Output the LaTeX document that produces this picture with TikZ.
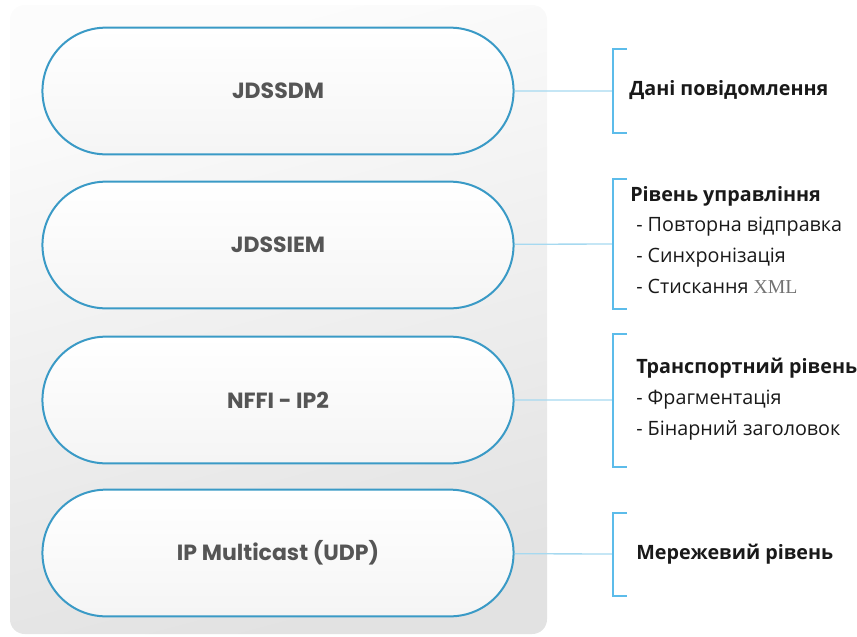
\documentclass[tikz,border=0pt]{standalone}
\usepackage{fontspec}
\setmainfont{Open Sans}
\newfontfamily\pillfont{Poppins}
\newfontfamily\xmlfont{Liberation Serif}
\usetikzlibrary{shapes.misc}

\definecolor{pillblue}{HTML}{3A9AC6}
\definecolor{linkblue}{HTML}{A6D9F0}
\definecolor{bracketblue}{HTML}{5CBCEA}
\definecolor{labelgray}{HTML}{555555}
\definecolor{panelgray}{HTML}{E2E2E2}

\tikzset{
  layer/.style={rounded rectangle, draw=pillblue, line width=1.5pt,
    top color=white, bottom color=gray!8,
    minimum width=360pt, minimum height=95pt,
    text=labelgray, font=\pillfont\bfseries\fontsize{16.5}{18}\selectfont},
  link/.style={draw=linkblue, line width=1pt},
  bracket/.style={draw=bracketblue, line width=1.5pt},
  note/.style={anchor=west, align=left, inner sep=0pt, text=black!90,
    font=\fontsize{14.8}{23}\selectfont}
}

\begin{document}
\begin{tikzpicture}[x=0.75pt,y=-0.75pt]
\useasboundingbox (0,0) rectangle (857,636);
% background panel
\shade[rounded corners=11pt, top color=white!98!gray, bottom color=panelgray,
  shading angle=15] (10,5) rectangle (547,634);

\node[layer] (l1) at (278,91) {JDSSDM};
\node[layer] (l2) at (278,245) {JDSSIEM};
\node[layer] (l3) at (278,400) {NFFI - IP2};
\node[layer] (l4) at (278,553) {IP Multicast (UDP)};

\coordinate (b1) at (613,91);
\coordinate (b2) at (613,244);
\coordinate (b3) at (613,400);
\coordinate (b4) at (613,554);

\draw[link] (l1) -- (b1);
\draw[link] (l2) -- (b2);
\draw[link] (l3) -- (b3);
\draw[link] (l4) -- (b4);

% brackets
\draw[bracket] (b1) ++(14,-42) -- ++(-14,0) -- ++(0,84) -- ++(14,0);
\draw[bracket] (b2) ++(14,-65) -- ++(-14,0) -- ++(0,130) -- ++(14,0);
\draw[bracket] (b3) ++(14,-66) -- ++(-14,0) -- ++(0,133) -- ++(14,0);
\draw[bracket] (b4) ++(14,-41) -- ++(-14,0) -- ++(0,83) -- ++(14,0);

\node[note] (t1) at (629,90) {\bfseries Дані повідомлення};
\node[note, anchor=north west] (t2) at (630,186) {\bfseries Рівень управління\\
  \hspace{4.5pt}- Повторна відправка\\
  \hspace{4.5pt}- Синхронізація\\
  \hspace{4.5pt}- Стискання \textcolor{black!55}{\xmlfont XML}};
\node[note, anchor=north west] (t3) at (636,358) {\bfseries Транспортний рівень\\
  - Фрагментація\\
  - Бінарний заголовок};
\node[note] (t4) at (636,554) {\bfseries Мережевий рівень};
\end{tikzpicture}
\end{document}
